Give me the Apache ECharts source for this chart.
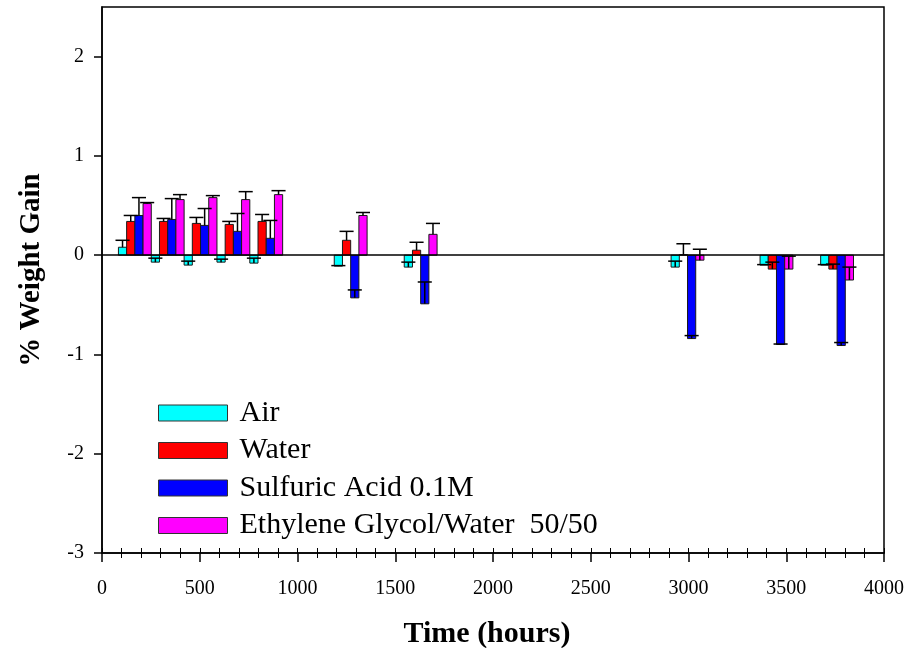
<!DOCTYPE html>
<html>
<head>
<meta charset="utf-8">
<script src="https://cdn.jsdelivr.net/npm/echarts@6/dist/echarts.min.js"></script>
<style>
html,body{margin:0;padding:0;background:#fff;}
#chart{width:915px;height:648px;}
</style>
</head>
<body>
<div id="chart"></div>
<script>
// ---- data ----
const times     = [168, 336, 504, 672, 840, 1272, 1630, 2995, 3450, 3760];
const air       = [0.08, -0.07, -0.10, -0.07, -0.08, -0.11, -0.12, -0.12, -0.10, -0.10];
const airErr    = [0.07, 0.04, 0.04, 0.03, 0.05, 0.005, 0.05, 0.06, 0.005, 0.005];
const water     = [0.34, 0.34, 0.32, 0.31, 0.34, 0.15, 0.05, 0.005, -0.14, -0.14];
const waterErr  = [0.06, 0.03, 0.06, 0.03, 0.07, 0.09, 0.08, 0.11, 0.07, 0.05];
const acid      = [0.40, 0.36, 0.30, 0.24, 0.17, -0.43, -0.49, -0.84, -0.90, -0.91];
const acidErr   = [0.18, 0.21, 0.17, 0.18, 0.18, 0.08, 0.22, 0.03, 0.005, 0.03];
const glycol    = [0.52, 0.56, 0.58, 0.56, 0.61, 0.40, 0.21, -0.05, -0.14, -0.25];
const glycolErr = [0.01, 0.05, 0.02, 0.08, 0.04, 0.03, 0.11, 0.11, 0.13, 0.13];
const seriesNames = ['Air', 'Water', 'Sulfuric Acid 0.1M', 'Ethylene Glycol/Water  50/50'];
const yTicks = [-3, -2, -1, 0, 1, 2];
const xTicks = [0, 500, 1000, 1500, 2000, 2500, 3000, 3500, 4000];

// ---- styling ----
const colors = ['#00FFFF', '#FF0000', '#0000FF', '#FF00FF'];
const BAR_HOURS = 42;   // bar width in axis units
const CAP_HOURS = 36;   // half cap width in axis units
const FONT = 'Liberation Serif, Times New Roman, serif';

const values = [air, water, acid, glycol];
const errs = [airErr, waterErr, acidErr, glycolErr];

function barRender(idx) {
  return function (params, api) {
    const t = api.value(0), v = api.value(1);
    const off = (idx - 1.5) * BAR_HOURS;
    const p0 = api.coord([t + off - BAR_HOURS / 2, 0]);
    const p1 = api.coord([t + off + BAR_HOURS / 2, v]);
    return {
      type: 'rect',
      shape: { x: p0[0], y: Math.min(p0[1], p1[1]), width: p1[0] - p0[0], height: Math.abs(p1[1] - p0[1]) },
      style: { fill: colors[idx], stroke: '#1a1a1a', lineWidth: 1 }
    };
  };
}
function errRender(idx) {
  return function (params, api) {
    const t = api.value(0), v = api.value(1), e = api.value(2);
    const xc = t + (idx - 1.5) * BAR_HOURS;
    const a = api.coord([xc, v]);
    const b = api.coord([xc, v + e]);
    const cl = api.coord([xc - CAP_HOURS, v + e]);
    const cr = api.coord([xc + CAP_HOURS, v + e]);
    return {
      type: 'group',
      children: [
        { type: 'line', shape: { x1: a[0], y1: a[1], x2: b[0], y2: b[1] }, style: { stroke: '#000', lineWidth: 1.5 } },
        { type: 'line', shape: { x1: cl[0], y1: cl[1], x2: cr[0], y2: cr[1] }, style: { stroke: '#000', lineWidth: 1.5 } }
      ]
    };
  };
}

const series = [];
for (let i = 0; i < 4; i++) {
  series.push({
    name: seriesNames[i],
    type: 'custom',
    renderItem: barRender(i),
    encode: { x: 0, y: 1 },
    itemStyle: { color: colors[i], borderColor: '#000', borderWidth: 1 },
    data: times.map((t, k) => [t, values[i][k]]),
    z: 2,
    silent: true
  });
}
for (let i = 0; i < 4; i++) {
  series.push({
    name: seriesNames[i] + ' err',
    type: 'custom',
    renderItem: errRender(i),
    encode: { x: 0, y: [1, 2] },
    data: times.map((t, k) => [t, values[i][k], errs[i][k]]),
    z: 4,
    silent: true
  });
}
// zero reference line
series.push({
  name: 'zero',
  type: 'line',
  data: [],
  markLine: {
    silent: true, symbol: 'none', label: { show: false },
    lineStyle: { color: '#000', type: 'solid', width: 1.5 },
    data: [{ yAxis: 0 }]
  },
  z: 5
});

const chart = echarts.init(document.getElementById('chart'), null, { renderer: 'canvas' });
chart.setOption({
  animation: false,
  backgroundColor: '#fff',
  grid: { left: 102, right: 31, top: 7, bottom: 95, show: true, borderColor: '#000', borderWidth: 1.5, backgroundColor: 'transparent', outerBoundsMode: 'none', containLabel: false },
  legend: {
    orient: 'vertical',
    left: 153, top: 393,
    itemWidth: 69, itemHeight: 16, itemGap: 7.5,
    icon: 'rect',
    selectedMode: false,
    data: seriesNames.map((n, i) => ({ name: n, itemStyle: { color: colors[i], borderColor: '#333', borderWidth: 1 } })),
    textStyle: { fontFamily: FONT, fontSize: 30, color: '#000', lineHeight: 30, padding: [0, 0, 0, 7] }
  },
  xAxis: [{
    type: 'value', min: 0, max: 4000, interval: 500,
    name: 'Time (hours)', nameLocation: 'middle', nameGap: 66,
    nameTextStyle: { fontFamily: FONT, fontSize: 30, fontWeight: 'bold', color: '#000', padding: [0, 12, 0, 0] },
    axisLine: { onZero: false, lineStyle: { color: '#000', width: 1.5 } },
    axisTick: { show: true, length: 9, lineStyle: { color: '#000', width: 1.5 } },
    minorTick: { show: true, splitNumber: 5, length: 5, lineStyle: { color: '#000', width: 1 } },
    axisLabel: { margin: 26, fontFamily: FONT, fontSize: 20, color: '#000', customValues: xTicks, formatter: v => String(v) },
    splitLine: { show: false }
  }, {
    type: 'value', min: 0, max: 4000, interval: 100, position: 'bottom',
    axisLine: { show: false, onZero: false },
    axisTick: { show: true, inside: true, length: 5, lineStyle: { color: '#000', width: 1 } },
    axisLabel: { show: false },
    splitLine: { show: false }
  }],
  yAxis: {
    type: 'value', min: -3, max: 2.5, interval: 1,
    name: '% Weight Gain', nameLocation: 'middle', nameGap: 56,
    nameTextStyle: { fontFamily: FONT, fontSize: 29, fontWeight: 'bold', color: '#000', padding: [0, 0, 0, 20] },
    axisLine: { lineStyle: { color: '#000', width: 1.5 } },
    axisTick: { show: true, length: 8, lineStyle: { color: '#000', width: 1.5 }, customValues: yTicks },
    axisLabel: { margin: 18, fontFamily: FONT, fontSize: 20, color: '#000', customValues: yTicks, formatter: v => String(v) },
    splitLine: { show: false }
  },
  series: series
});
</script>
</body>
</html>
